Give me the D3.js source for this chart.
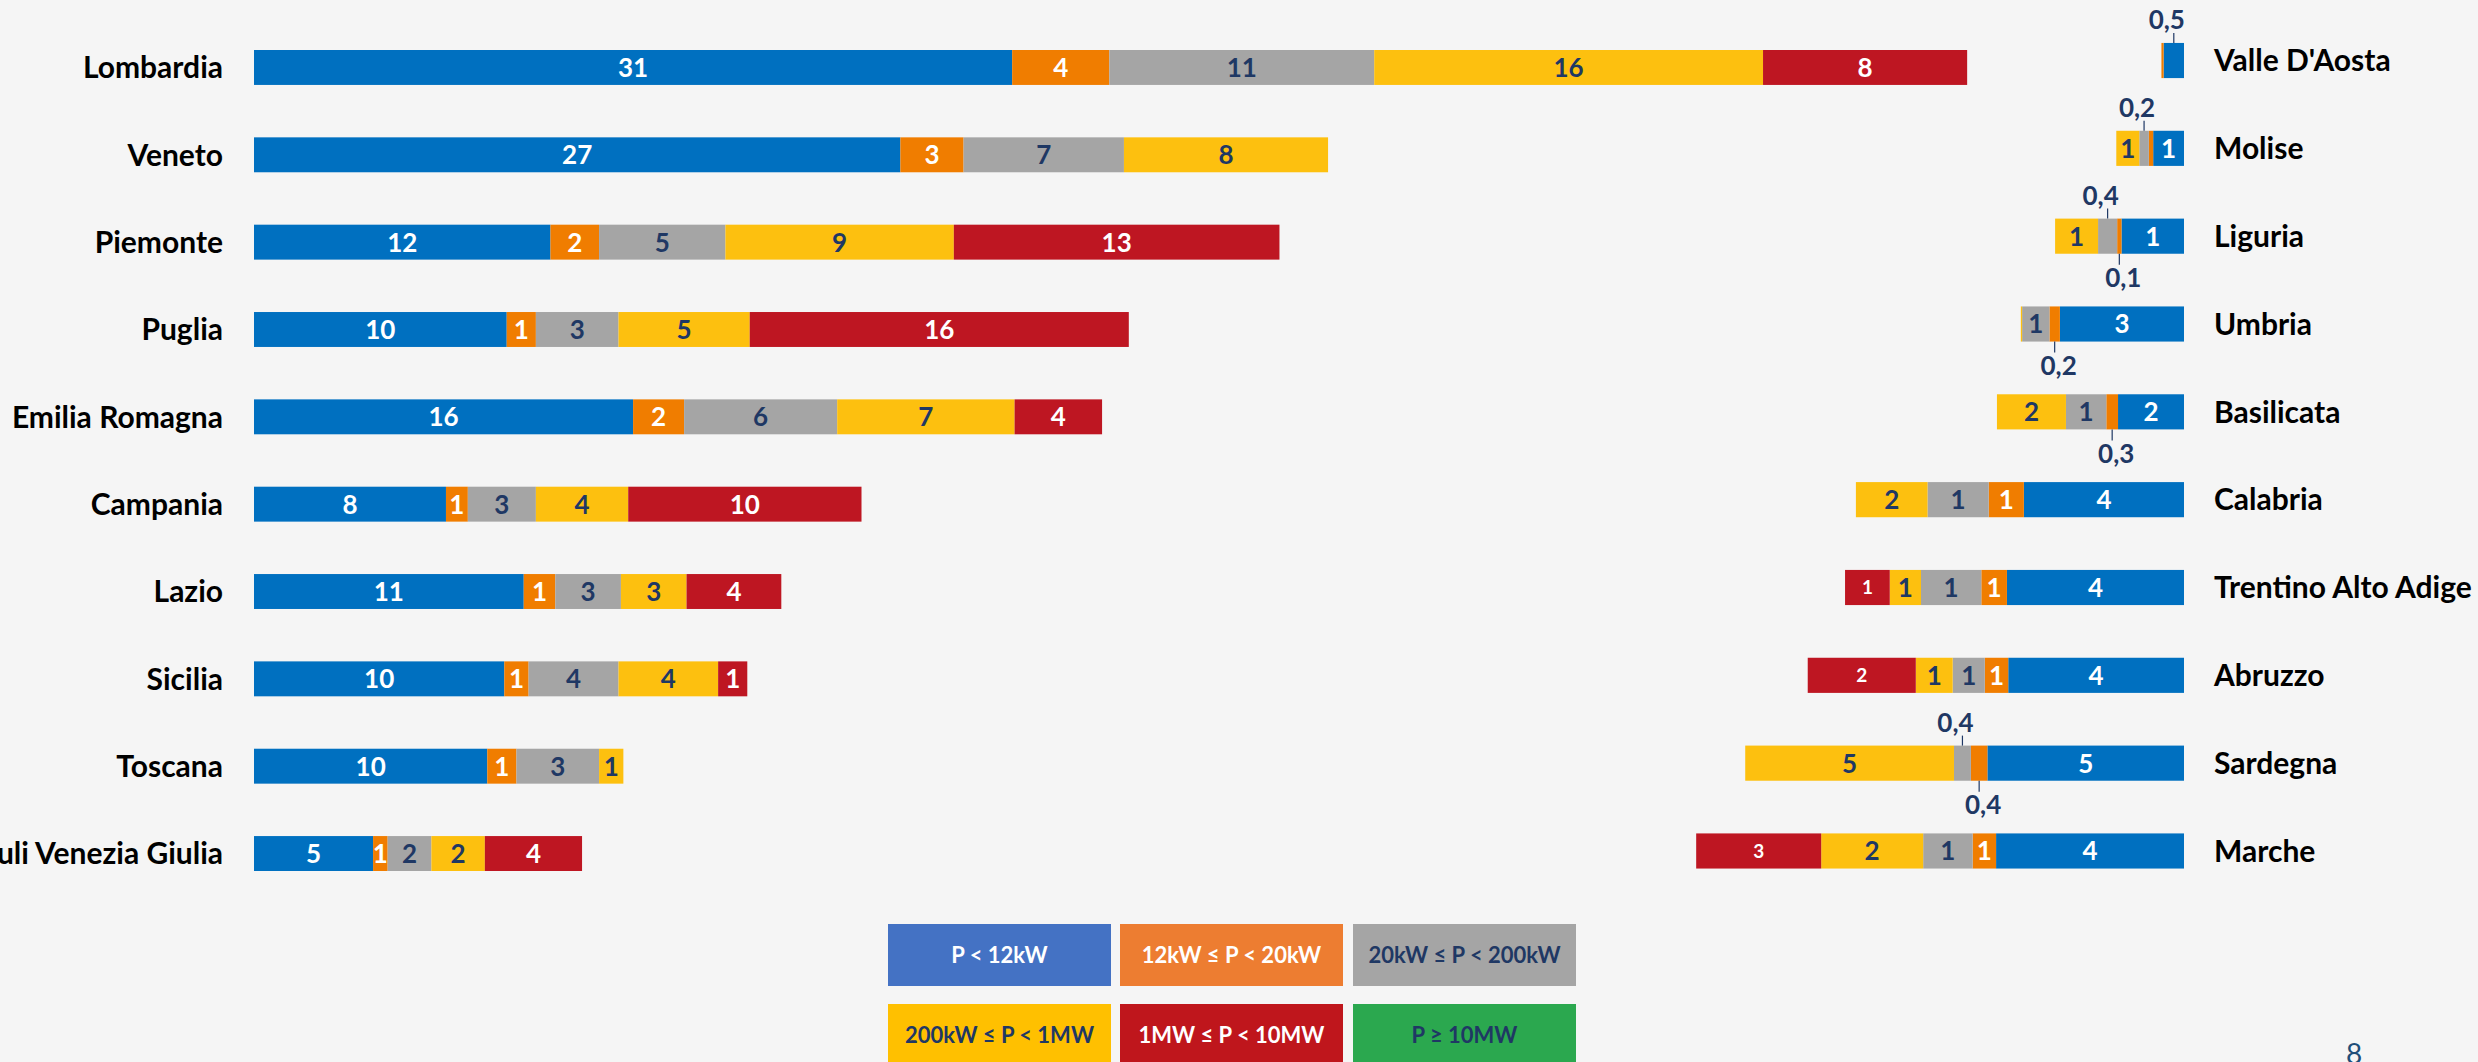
<!DOCTYPE html>
<html>
<head>
<meta charset="utf-8">
<script src="https://cdn.jsdelivr.net/npm/d3@7"></script>
<style>
  html, body { margin: 0; padding: 0; background: #F5F5F5; }
  svg { display: block; }
  text { font-family: Lato, "Open Sans", sans-serif; }
</style>
</head>
<body>
<div id="chart"></div>
<script>
// power classes (same order as the legend)
const classes = ["P < 12kW", "12kW ≤ P < 20kW", "20kW ≤ P < 200kW", "200kW ≤ P < 1MW", "1MW ≤ P < 10MW", "P ≥ 10MW"];

// left block: largest regions
const leftRegions = ["Lombardia", "Veneto", "Piemonte", "Puglia", "Emilia Romagna", "Campania", "Lazio", "Sicilia", "Toscana", "Friuli Venezia Giulia"];
const leftLt12kW = [31.2, 26.6, 12.2, 10.4, 15.6, 7.9, 11.1, 10.3, 9.6, 4.9];
const left12to20kW = [4.0, 2.6, 2.0, 1.2, 2.1, 0.9, 1.3, 1.0, 1.2, 0.6];
const left20to200kW = [10.9, 6.6, 5.2, 3.4, 6.3, 2.8, 2.7, 3.7, 3.4, 1.8];
const left200kWto1MW = [16.0, 8.4, 9.4, 5.4, 7.3, 3.8, 2.7, 4.1, 1.0, 2.2];
const left1to10MW = [8.4, 0, 13.4, 15.6, 3.6, 9.6, 3.9, 1.2, 0, 4.0];
const leftGe10MW = [0, 0, 0, 0, 0, 0, 0, 0, 0, 0];

// right block: smaller regions (bars grow to the left)
const rightRegions = ["Valle D'Aosta", "Molise", "Liguria", "Umbria", "Basilicata", "Calabria", "Trentino Alto Adige", "Abruzzo", "Sardegna", "Marche"];
const rightLt12kW = [0.47, 0.71, 1.44, 2.86, 1.52, 3.69, 4.08, 4.05, 4.53, 4.33];
const right12to20kW = [0.05, 0.1, 0.1, 0.24, 0.27, 0.81, 0.59, 0.54, 0.38, 0.54];
const right20to200kW = [0, 0.22, 0.44, 0.63, 0.93, 1.41, 1.39, 0.74, 0.39, 1.14];
const right200kWto1MW = [0, 0.53, 0.99, 0.03, 1.59, 1.65, 0.72, 0.85, 4.81, 2.35];
const right1to10MW = [0, 0, 0, 0, 0, 0, 1.03, 2.49, 0, 2.88];
const rightGe10MW = [0, 0, 0, 0, 0, 0, 0, 0, 0, 0];

const pageNumber = "8";

const W = 2478, H = 1062;
const barColors = ["#0070C0", "#F07D00", "#A5A5A5", "#FDC00F", "#BE1622", "#2BA84A"];
const legendColors = ["#4472C4", "#ED7D31", "#A5A5A5", "#FFC000", "#BF161C", "#2BA84F"];
const ink = ["#FFFFFF", "#FFFFFF", "#1F3864", "#1F3864", "#FFFFFF", "#1F3864"];
const navy = "#1F3864";

const svg = d3.select("#chart").append("svg")
    .attr("width", W)
    .attr("height", H);

function buildRows(regions, cols) {
    return regions.map((r, i) => {
        const row = { region: r };
        classes.forEach((c, k) => row[c] = cols[k][i]);
        return row;
    });
}

const fmtSmall = v => v.toFixed(1).replace(".", ",");

function drawPanel(rows, x, y, side) {
    const stacked = d3.stack().keys(classes)(rows);
    const g = svg.append("g");

    const layers = g.selectAll("g.layer")
        .data(stacked)
        .enter().append("g")
        .attr("class", "layer")
        .attr("fill", (d, i) => barColors[i]);

    layers.selectAll("rect")
        .data(d => d.map(p => ({ p, key: d.key })))
        .enter().append("rect")
        .filter(d => d.p[1] - d.p[0] > 0)
        .attr("x", d => Math.min(x(d.p[0]), x(d.p[1])))
        .attr("width", d => Math.abs(x(d.p[1]) - x(d.p[0])))
        .attr("y", d => y(d.p.data.region))
        .attr("height", y.bandwidth());

    // value labels
    stacked.forEach((layer, k) => {
        layer.forEach(p => {
            const v = p[1] - p[0];
            if (v < 0.1) return;
            const cx = (x(p[0]) + x(p[1])) / 2;
            const top = y(p.data.region);
            const bot = top + y.bandwidth();
            if (v >= 0.5) {
                const small = side === "right" && k === 4;
                g.append("text")
                    .attr("x", cx)
                    .attr("y", top + y.bandwidth() / 2)
                    .attr("dy", "0.36em")
                    .attr("text-anchor", "middle")
                    .attr("font-size", small ? 19 : 26)
                    .attr("font-weight", 700)
                    .attr("fill", ink[k])
                    .text(Math.round(v));
            } else {
                // callout outside the bar with a leader line
                const above = k !== 1;
                const y1 = above ? top : bot;
                const y2 = above ? top - 10 : bot + 11;
                g.append("line")
                    .attr("x1", cx).attr("x2", cx)
                    .attr("y1", y1).attr("y2", y2)
                    .attr("stroke", navy)
                    .attr("stroke-width", 1.2);
                g.append("text")
                    .attr("x", cx + (above ? -7 : 4))
                    .attr("y", above ? top - 23 : bot + 24)
                    .attr("dy", "0.36em")
                    .attr("text-anchor", "middle")
                    .attr("font-size", 26)
                    .attr("font-weight", 700)
                    .attr("fill", navy)
                    .text(fmtSmall(v));
            }
        });
    });

    // region names
    g.selectAll("text.region")
        .data(rows)
        .enter().append("text")
        .attr("class", "region")
        .attr("x", side === "left" ? x.range()[0] - 31 : x.range()[0] + 30)
        .attr("y", d => y(d.region) + y.bandwidth() / 2)
        .attr("dy", "0.36em")
        .attr("text-anchor", side === "left" ? "end" : "start")
        .attr("font-size", 30)
        .attr("font-weight", 700)
        .attr("fill", "#000")
        .text(d => d.region);
}

// left panel
const leftRows = buildRows(leftRegions, [leftLt12kW, left12to20kW, left20to200kW, left200kWto1MW, left1to10MW, leftGe10MW]);
const xLeft = d3.scaleLinear().domain([0, 80]).range([254, 254 + 80 * 24.3]);
const yLeft = d3.scaleBand().domain(leftRegions).range([23.8, 897.2]).paddingInner(0.6).paddingOuter(0.3);
drawPanel(leftRows, xLeft, yLeft, "left");

// right panel
const rightRows = buildRows(rightRegions, [rightLt12kW, right12to20kW, right20to200kW, right200kWto1MW, right1to10MW, rightGe10MW]);
const xRight = d3.scaleLinear().domain([0, 12]).range([2184, 2184 - 12 * 43.4]);
const yRight = d3.scaleBand().domain(rightRegions).range([16.6, 894.9]).paddingInner(0.6).paddingOuter(0.3);
drawPanel(rightRows, xRight, yRight, "right");

// legend
const legend = svg.append("g");
const boxW = 223, boxH = 62;
const legendX = [888, 1120, 1353];
const legendY = [924, 1004];
classes.forEach((c, i) => {
    const gx = legendX[i % 3], gy = legendY[Math.floor(i / 3)];
    legend.append("rect")
        .attr("x", gx).attr("y", gy)
        .attr("width", boxW).attr("height", boxH)
        .attr("fill", legendColors[i]);
    legend.append("text")
        .attr("x", gx + boxW / 2)
        .attr("y", gy + boxH / 2)
        .attr("dy", "0.36em")
        .attr("text-anchor", "middle")
        .attr("font-size", 22)
        .attr("font-weight", 700)
        .attr("fill", ink[i])
        .text(c);
});

svg.append("text")
    .attr("x", 2354)
    .attr("y", 1064)
    .attr("text-anchor", "middle")
    .attr("font-size", 28)
    .attr("fill", "#1F4E79")
    .text(pageNumber);
</script>
</body>
</html>
